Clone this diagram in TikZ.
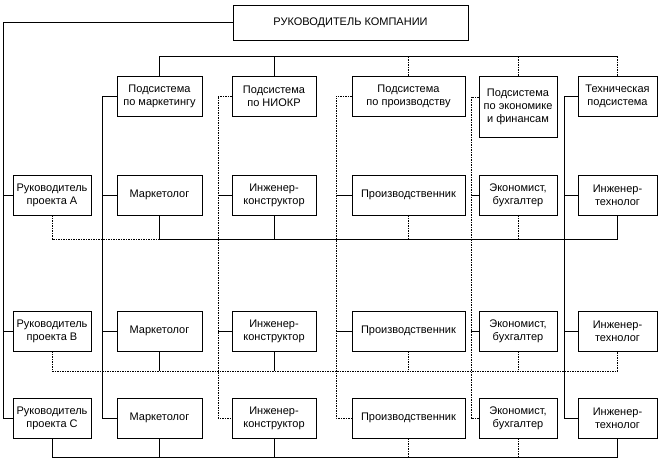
\documentclass[tikz,border=0pt]{standalone}
\usepackage{fontspec}
\setmainfont{Liberation Sans}
\usetikzlibrary{calc}

\begin{document}
\begin{tikzpicture}[x=1pt, y=-1pt,
    unit/.style={draw, line width=0.6pt, fill=white, inner sep=1pt, align=center, minimum height=40pt, font=\fontsize{11}{13}\selectfont},
    head/.style={unit, minimum width=235pt, minimum height=35pt},
    link/.style={line width=0.6pt},
    dlink/.style={line width=0.6pt, dash pattern=on 1.5pt off 1pt},
]
\useasboundingbox (0,0) rectangle (664,472);

% Head of company
\node[head] (ceo) at (350.5, 22.5) {РУКОВОДИТЕЛЬ КОМПАНИИ};

% Subsystems
\node[unit, minimum width=85pt] (sub1) at (159.5, 96) {Подсистема\\по маркетингу};
\node[unit, minimum width=84pt] (sub2) at (274, 96) {Подсистема\\по НИОКР};
\node[unit, minimum width=113pt] (sub3) at (408.5, 96) {Подсистема\\по производству};
\node[unit, minimum width=78pt, minimum height=61pt] (sub4) at (518, 106.5) {Подсистема\\по экономике\\и финансам};
\node[unit, minimum width=79pt] (sub5) at (617.5, 96) {Техническая\\подсистема};

% Project A
\node[unit, minimum width=78pt] (rA) at (52, 195) {Руководитель\\проекта А};
\node[unit, minimum width=85pt] (mkA) at (159.5, 195) {Маркетолог};
\node[unit, minimum width=84pt] (ikA) at (274, 195) {Инженер-\\конструктор};
\node[unit, minimum width=113pt] (prA) at (408.5, 195) {Производственник};
\node[unit, minimum width=78pt] (ekA) at (518, 195) {Экономист,\\бухгалтер};
\node[unit, minimum width=79pt] (itA) at (617.5, 195) {Инженер-\\технолог};

% Project B
\node[unit, minimum width=78pt] (rB) at (52, 331) {Руководитель\\проекта В};
\node[unit, minimum width=85pt] (mkB) at (159.5, 331) {Маркетолог};
\node[unit, minimum width=84pt] (ikB) at (274, 331) {Инженер-\\конструктор};
\node[unit, minimum width=113pt] (prB) at (408.5, 331) {Производственник};
\node[unit, minimum width=78pt] (ekB) at (518, 331) {Экономист,\\бухгалтер};
\node[unit, minimum width=79pt] (itB) at (617.5, 331) {Инженер-\\технолог};

% Project C
\node[unit, minimum width=78pt] (rC) at (52, 418) {Руководитель\\проекта С};
\node[unit, minimum width=85pt] (mkC) at (159.5, 418) {Маркетолог};
\node[unit, minimum width=84pt] (ikC) at (274, 418) {Инженер-\\конструктор};
\node[unit, minimum width=113pt] (prC) at (408.5, 418) {Производственник};
\node[unit, minimum width=78pt] (ekC) at (518, 418) {Экономист,\\бухгалтер};
\node[unit, minimum width=79pt] (itC) at (617.5, 418) {Инженер-\\технолог};

% Guide coordinates
\coordinate (spine) at (3, 0);
\coordinate (col1) at (102, 0);
\coordinate (col2) at (218, 0);
\coordinate (col3) at (336, 0);
\coordinate (col4) at (471, 0);
\coordinate (col5) at (564, 0);
\coordinate (topbus) at (0, 56);
\coordinate (busA) at (0, 239);
\coordinate (busB) at (0, 371);
\coordinate (busC) at (0, 457);

% Head to project managers
\draw[link] (ceo.west) -| (spine |- rC.west) -- (rC.west);
\draw[link] (spine |- rA.west) -- (rA.west);
\draw[link] (spine |- rB.west) -- (rB.west);

% Subsystem bus
\draw[link] (sub1.north) |- (sub5.north |- topbus);
\draw[link] (sub2.north) -- (sub2.north |- topbus);
\draw[dlink] (sub3.north) -- (sub3.north |- topbus);
\draw[dlink] (sub4.north) -- (sub4.north |- topbus);
\draw[dlink] (sub5.north) -- (sub5.north |- topbus);

% Subsystems to their specialists
\draw[link] (sub1.west) -| (col1 |- mkC.west) -- (mkC.west);
\draw[link] (col1 |- mkA.west) -- (mkA.west);
\draw[link] (col1 |- mkB.west) -- (mkB.west);
\draw[dlink] (sub2.west) -| (col2 |- ikC.west) -- (ikC.west);
\draw[link] (col2 |- ikA.west) -- (ikA.west);
\draw[link] (col2 |- ikB.west) -- (ikB.west);
\draw[dlink] (sub3.west) -| (col3 |- prC.west) -- (prC.west);
\draw[link] (col3 |- prA.west) -- (prA.west);
\draw[link] (col3 |- prB.west) -- (prB.west);
\draw[dlink] ([yshift=9.5pt]sub4.west) -| (col4 |- ekC.west) -- (ekC.west);
\draw[link] (col4 |- ekA.west) -- (ekA.west);
\draw[link] (col4 |- ekB.west) -- (ekB.west);
\draw[link] (sub5.west) -| (col5 |- itC.west) -- (itC.west);
\draw[link] (col5 |- itA.west) -- (itA.west);
\draw[link] (col5 |- itB.west) -- (itB.west);

% Project buses
\draw[dlink] (rA.south) |- (mkA.south |- busA);
\draw[link] (mkA.south |- busA) -| (itA.south);
\draw[link] (mkA.south) -- (mkA.south |- busA);
\draw[link] (ikA.south) -- (ikA.south |- busA);
\draw[dlink] (prA.south) -- (prA.south |- busA);
\draw[dlink] (ekA.south) -- (ekA.south |- busA);

\draw[dlink] (rB.south) |- (itB.south |- busB) -- (itB.south);
\draw[link] (mkB.south) -- (mkB.south |- busB);
\draw[link] (ikB.south) -- (ikB.south |- busB);
\draw[dlink] (prB.south) -- (prB.south |- busB);
\draw[dlink] (ekB.south) -- (ekB.south |- busB);

\draw[link] (rC.south) |- (itC.south |- busC) -- (itC.south);
\draw[link] (mkC.south) -- (mkC.south |- busC);
\draw[link] (ikC.south) -- (ikC.south |- busC);
\draw[dlink] (prC.south) -- (prC.south |- busC);
\draw[dlink] (ekC.south) -- (ekC.south |- busC);

\end{tikzpicture}
\end{document}
